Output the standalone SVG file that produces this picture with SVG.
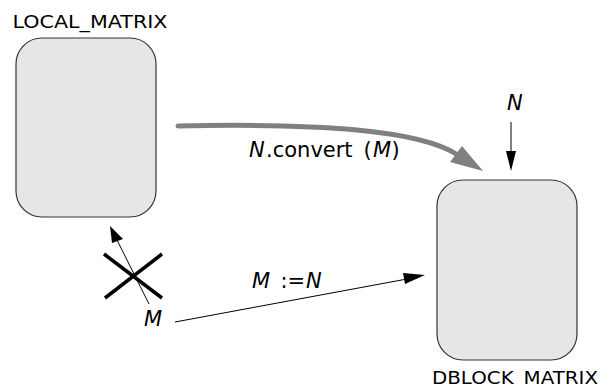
<svg xmlns="http://www.w3.org/2000/svg" width="600" height="387" viewBox="0 0 600 387">
<style>
.box{fill:#e6e6e6;stroke:#333;stroke-width:1.2}
.title{font-family:"DejaVu Sans",sans-serif;font-size:17px;fill:#000}
.lbl{font-family:"DejaVu Sans",sans-serif;font-size:21px;fill:#000}
.it{font-style:italic}
.thin{stroke:#000;stroke-width:1;fill:none}
</style>
<rect width="600" height="387" fill="#fff"/>
<g id="local_matrix">
<rect class="box" x="16" y="38" width="140" height="179" rx="26" ry="26"/>
<text class="title" x="12.5" y="28" textLength="155" lengthAdjust="spacingAndGlyphs">LOCAL_MATRIX</text>
</g>
<g id="dblock_matrix">
<rect class="box" x="437" y="180" width="140" height="180" rx="26" ry="26"/>
<text class="title" x="432" y="383.5" textLength="166" lengthAdjust="spacingAndGlyphs">DBLOCK_MATRIX</text>
</g>
<g id="connectors">
<path d="M178,126 C320,123 420,130 458,155" fill="none" stroke="#808080" stroke-width="5" stroke-linecap="round"/>
<polygon points="483,171 450,162 462,146" fill="#808080"/>
<line class="thin" x1="511" y1="122" x2="511" y2="153"/>
<polygon points="511,171 506,151 516,151" fill="#000"/>
<line class="thin" x1="175" y1="322" x2="407" y2="279"/>
<polygon points="425,275 405,284 403,273" fill="#000"/>
<line class="thin" x1="149" y1="304" x2="116" y2="238"/>
<polygon points="110,226 112,243 123,239" fill="#000"/>
<line x1="104" y1="254" x2="162" y2="298" stroke="#000" stroke-width="3.5"/>
<line x1="162" y1="254" x2="105" y2="298" stroke="#000" stroke-width="3.5"/>
</g>
<g id="labels">
<text class="lbl"><tspan class="it" x="249" y="157">N</tspan><tspan x="266" y="157">.convert</tspan><tspan x="363.5" y="157">(</tspan><tspan class="it" x="373" y="157">M</tspan><tspan x="391.5" y="157">)</tspan></text>
<text class="lbl"><tspan class="it" x="252" y="288">M</tspan><tspan x="280.5" y="288">:=</tspan><tspan class="it" x="306" y="288">N</tspan></text>
<text class="lbl it" x="507" y="110">N</text>
<text class="lbl it" x="144" y="326">M</text>
</g>
</svg>
